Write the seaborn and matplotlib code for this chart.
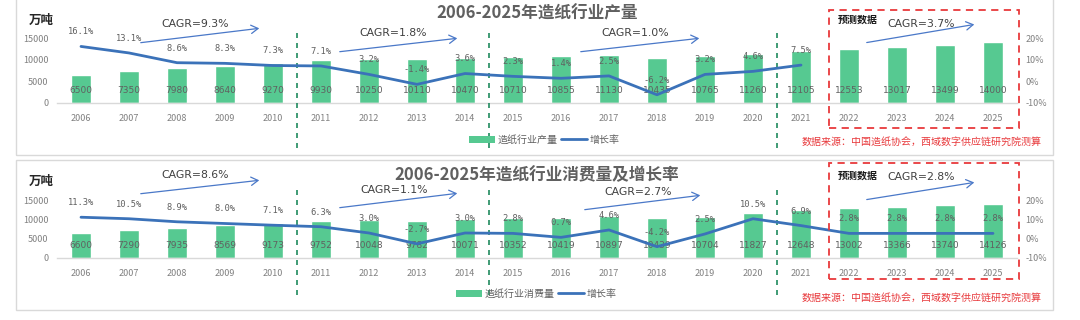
import numpy as np
import pandas as pd
import matplotlib
matplotlib.use("Agg")
import matplotlib.pyplot as plt
import matplotlib.transforms as mtransforms
from matplotlib.patches import Rectangle, Patch
from matplotlib.lines import Line2D
import seaborn as sns

# ---------------- data ----------------
years = [str(y) for y in range(2006, 2026)]
production = [6500, 7350, 7980, 8640, 9270, 9930, 10250, 10110, 10470, 10710,
              10855, 11130, 10435, 10765, 11260, 12105, 12553, 13017, 13499, 14000]
production_growth = [16.1, 13.1, 8.6, 8.3, 7.3, 7.1, 3.2, -1.4, 3.6, 2.3,
                     1.4, 2.5, -6.2, 3.2, 4.6, 7.5]
consumption = [6600, 7290, 7935, 8569, 9173, 9752, 10048, 9782, 10071, 10352,
               10419, 10897, 10439, 10704, 11827, 12648, 13002, 13366, 13740, 14126]
consumption_growth = [11.3, 10.5, 8.9, 8.0, 7.1, 6.3, 3.0, -2.7, 3.0, 2.8,
                      0.7, 4.6, -4.2, 2.5, 10.5, 6.9, 2.8, 2.8, 2.8, 2.8]
title_top = "2006-2025年造纸行业产量"
title_bottom = "2006-2025年造纸行业消费量及增长率"
legend_top = "造纸行业产量"
legend_bottom = "造纸行业消费量"
legend_growth = "增长率"
unit_label = "万吨"
forecast_label = "预测数据"
source_label = "数据来源：中国造纸协会，西域数字供应链研究院测算"
cagr_top = ["CAGR=9.3%", "CAGR=1.8%", "CAGR=1.0%", "CAGR=3.7%"]
cagr_bottom = ["CAGR=8.6%", "CAGR=1.1%", "CAGR=2.7%", "CAGR=2.8%"]
left_ticks = [0, 5000, 10000, 15000]
right_ticks = [-10, 0, 10, 20]

# ---------------- style ----------------
sns.set_theme(style="white")
plt.rcParams['font.family'] = ['Noto Sans CJK SC', 'DejaVu Sans']

GREEN = "#56C991"
BLUE = "#3B72B9"
ARROW = "#4A78C8"
GRAY = "#808080"
DARK = "#606060"
RED = "#E8393C"
DASHGREEN = "#1F8A5E"

W, H = 1080, 320
fig = plt.figure(figsize=(W / 100, H / 100), dpi=100)


def fx(x):
    return x / W


def fy(y):
    return 1 - y / H


def draw_panel(values, growth, title, legend_label, cagrs, cfg):
    y0, y1 = cfg["zero"], cfg["top"]
    ax = fig.add_axes([fx(57), fy(y0), fx(1017) - fx(57), (y0 - y1) / H])
    df = pd.DataFrame({"year": years, "value": values})
    sns.barplot(data=df, x="year", y="value", color=GREEN, width=0.41,
                saturation=1, ax=ax, zorder=2)
    ax.set_ylim(0, 15000)
    ax.set_yticks(left_ticks)
    ax.set_xlabel("")
    ax.set_ylabel("")
    for s in ["top", "left", "right"]:
        ax.spines[s].set_visible(False)
    ax.spines["bottom"].set_color("#D9D9D9")
    ax.spines["bottom"].set_linewidth(1)
    ax.tick_params(axis="both", length=0, labelsize=6.5, colors=GRAY)
    ax.tick_params(axis="x", pad=cfg["xpad"])
    ax.tick_params(axis="y", pad=6)

    trans = mtransforms.blended_transform_factory(ax.transData, ax.transAxes)
    for i, v in enumerate(values):
        ax.text(i, cfg["vfrac"], f"{v}", transform=trans, ha="center",
                va="center", fontsize=6.5, color=DARK, zorder=5,
                family=["DejaVu Sans"])

    ax2 = ax.twinx()
    gdf = pd.DataFrame({"pos": np.arange(len(growth)), "g": growth})
    sns.lineplot(data=gdf, x="pos", y="g", ax=ax2, color=BLUE, linewidth=2.0,
                 legend=False, zorder=4)
    ax2.set_ylim(-10, 20)
    ax2.set_yticks(right_ticks)
    ax2.set_yticklabels([f"{t}%" for t in right_ticks])
    ax2.set_xlabel("")
    ax2.set_ylabel("")
    for s in ax2.spines.values():
        s.set_visible(False)
    ax2.tick_params(axis="y", length=0, labelsize=6.5, colors=GRAY, pad=6)
    for i, g in enumerate(growth):
        ax2.annotate(f"{g:.1f}%", (i, g), xytext=(0, 10.5),
                     textcoords="offset points", ha="center", va="center",
                     fontsize=6.3, color=DARK, family=["DejaVu Sans Mono"])
    ax.set_xlim(-0.5, len(years) - 0.5)
    ax2.set_xlim(-0.5, len(years) - 0.5)

    # dashed separators between periods
    d0, d1 = cfg["dash"]
    for xv in [4.5, 8.5, 14.5]:
        ax.axvline(xv, ymin=(y0 - d1) / (y0 - y1), ymax=(y0 - d0) / (y0 - y1),
                   color=DASHGREEN, linestyle=(0, (3, 3)), linewidth=1.2,
                   clip_on=False, zorder=6)

    # panel frame
    fr = cfg["frame"]
    fig.patches.append(Rectangle((fx(16), fy(fr[1])), fx(1053) - fx(16),
                                 (fr[1] - fr[0]) / H, transform=fig.transFigure,
                                 fill=False, edgecolor="#D9D9D9", linewidth=1))
    # forecast box
    rb = cfg["redbox"]
    fig.patches.append(Rectangle((fx(829), fy(rb[1])), fx(1019) - fx(829),
                                 (rb[1] - rb[0]) / H, transform=fig.transFigure,
                                 fill=False, edgecolor=RED, linewidth=1.3,
                                 linestyle=(0, (4, 3))))
    fig.text(fx(838), fy(cfg["fc_y"]), forecast_label, ha="left", va="center",
             fontsize=7.2, fontweight="semibold", color="#1A1A1A")

    fig.text(fx(537), fy(cfg["title_y"]), title, ha="center", va="center",
             fontsize=12, fontweight="semibold", color=DARK)
    fig.text(fx(29), fy(cfg["unit_y"]), unit_label, ha="left", va="center",
             fontsize=9, fontweight="semibold", color="#262626")
    fig.text(fx(1042), fy(cfg["src_y"]), source_label, ha="right", va="center",
             fontsize=7.2, color=RED)

    for txt, (tx, ty), (ax0, ay0), (ax1, ay1) in zip(cagrs, cfg["cagr_txt"],
                                                    cfg["arr_start"], cfg["arr_end"]):
        fig.text(fx(tx), fy(ty), txt, ha="center", va="center", fontsize=7.8,
                 color="#404040", family=["DejaVu Sans"])
        fig.add_artist(matplotlib.patches.FancyArrowPatch(
            (fx(ax0), fy(ay0)), (fx(ax1), fy(ay1)), transform=fig.transFigure,
            arrowstyle="->,head_length=5,head_width=3", color=ARROW,
            linewidth=0.9))

    handles = [Patch(facecolor=GREEN, edgecolor="none"),
               Line2D([0], [0], color=BLUE, linewidth=2.0)]
    fig.legend(handles, [legend_label, legend_growth], loc="center",
               bbox_to_anchor=(fx(cfg["leg_x"]), fy(cfg["leg_y"])), ncol=2,
               frameon=False, fontsize=7.2, handlelength=2.6, handleheight=0.8,
               columnspacing=0.3, handletextpad=0.3, labelcolor=DARK)


cfg_top = dict(zero=103, top=38, xpad=8, vfrac=0.185, dash=(33, 148),
               frame=(-5, 155), redbox=(10, 128), fc_y=20, title_y=13,
               unit_y=20, src_y=142, leg_x=544, leg_y=140,
               cagr_txt=[(195, 24), (393, 33), (635, 33), (921, 24)],
               arr_start=[(138, 43), (337, 52), (578, 52), (864, 43)],
               arr_end=[(262, 28), (460, 38), (702, 38), (977, 24)])
cfg_bottom = dict(zero=257.7, top=200.7, xpad=8, vfrac=0.22, dash=(185, 295),
                  frame=(160, 310), redbox=(163, 279), fc_y=176, title_y=175,
                  unit_y=181, src_y=298, leg_x=536, leg_y=294,
                  cagr_txt=[(195, 175), (394, 190), (638, 192), (921, 177)],
                  arr_start=[(138, 194), (337, 208), (582, 210), (864, 200)],
                  arr_end=[(262, 180), (460, 193), (703, 195), (977, 182)])

draw_panel(production, production_growth, title_top, legend_top, cagr_top, cfg_top)
draw_panel(consumption, consumption_growth, title_bottom, legend_bottom, cagr_bottom, cfg_bottom)

fig.savefig("out.png", dpi=100, facecolor="white")
